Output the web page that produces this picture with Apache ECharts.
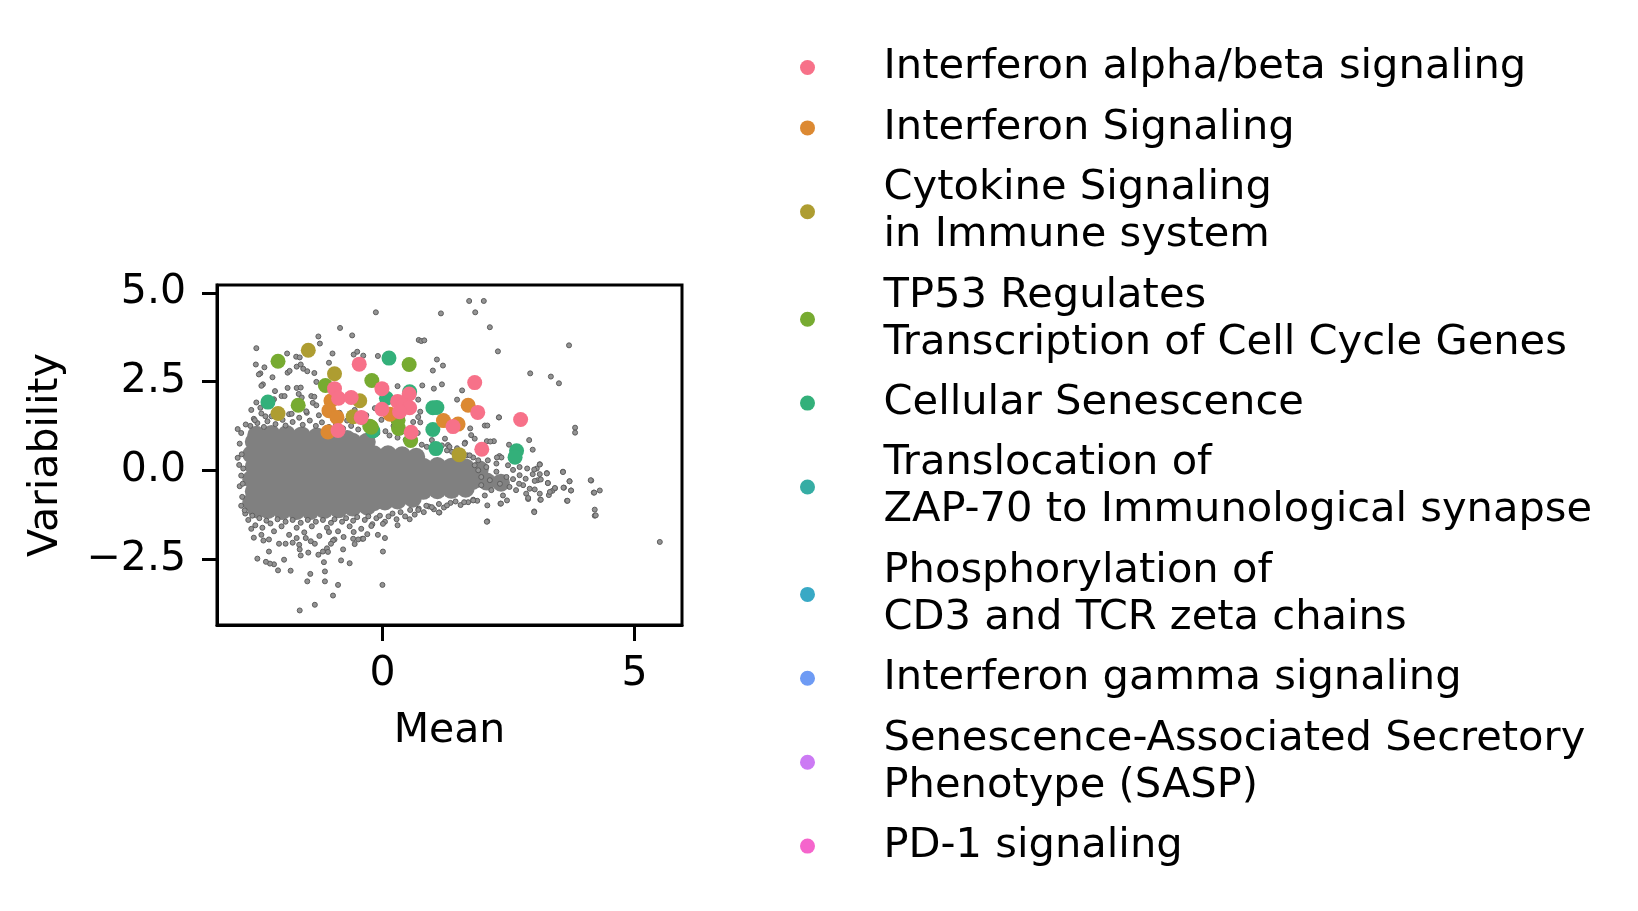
<!DOCTYPE html>
<html lang="en">
<head>
  <meta charset="UTF-8">
  <title>Mean vs Variability</title>
  <script src="https://cdn.jsdelivr.net/npm/echarts@6/dist/echarts.min.js"></script>
  <style>
    html, body { margin:0; padding:0; background:#fff; }
    #main { width:1638px; height:911px; }
  </style>
</head>
<body>
<div id="main"></div>
<script>
  // pathway names, legend order
  var pathways = [
    'Interferon alpha/beta signaling',
    'Interferon Signaling',
    'Cytokine Signaling\nin Immune system',
    'TP53 Regulates\nTranscription of Cell Cycle Genes',
    'Cellular Senescence',
    'Translocation of\nZAP-70 to Immunological synapse',
    'Phosphorylation of\nCD3 and TCR zeta chains',
    'Interferon gamma signaling',
    'Senescence-Associated Secretory\nPhenotype (SASP)',
    'PD-1 signaling'
  ];
  var pathwayColors = ['#f77189','#dc8932','#ae9d31','#77ab31','#33b07a','#36ada4','#38a9c5','#6e9bf4','#cc7af4','#f565cc'];

  // highlighted genes per pathway [mean, variability]
  var ifnAlphaBeta = [[-0.46,2.99],[1.83,2.47],[-0.95,2.30],[-0.87,2.03],[-0.62,2.05],[-0.01,2.30],[0.30,1.94],[0.53,2.15],[0.42,1.83],[0.54,1.76],[-0.01,1.72],[0.34,1.65],[-0.42,1.49],[1.89,1.63],[2.74,1.43],[1.40,1.23],[0.57,1.07],[-0.88,1.12],[1.97,0.59]];
  var ifnSignaling = [[1.70,1.83],[-1.02,1.96],[-1.06,1.68],[-0.90,1.49],[0.15,1.58],[1.21,1.40],[1.50,1.30],[-1.08,1.08]];
  var cytokine = [[-1.47,3.38],[-0.95,2.72],[-2.07,1.60],[-0.45,1.96],[-0.58,1.51],[1.52,0.44]];
  var tp53 = [[-2.07,3.07],[0.53,2.98],[-1.13,2.39],[-0.21,2.53],[-1.67,1.83],[-0.22,1.21],[-0.25,1.24],[0.32,1.18],[0.31,1.41],[0.56,0.84]];
  var senescence = [[0.13,3.16],[-2.27,1.92],[0.08,2.03],[0.54,2.21],[1.00,1.76],[1.08,1.77],[1.00,1.15],[1.06,0.61],[2.66,0.55],[2.63,0.37],[-0.19,1.11]];
  var zap70 = [];
  var cd3tcr = [];
  var ifnGamma = [];
  var sasp = [];
  var pd1 = [];

  // dense centre of the background cloud
  var cloudCore = [
    [-2.55,0.8],[-2.27,0.8],[-1.99,0.8],[-1.71,0.8],[-1.43,0.8],[-1.15,0.8],[-0.87,0.8],[-0.59,0.8],[-0.31,0.8],
    [-2.5,1.0],[-2.2,1.02],[-1.9,1.02],[-1.6,0.98],[-1.3,0.95],[-1.0,0.9],[-0.7,0.88],
    [-2.6,0.45],[-2.41,0.45],[-2.13,0.45],[-1.85,0.45],[-1.57,0.45],[-1.29,0.45],[-1.01,0.45],[-0.73,0.45],[-0.45,0.45],[-0.17,0.45],[0.11,0.45],[0.39,0.42],[0.67,0.38],
    [-2.55,0.1],[-2.27,0.1],[-1.99,0.1],[-1.71,0.1],[-1.43,0.1],[-1.15,0.1],[-0.87,0.1],[-0.59,0.1],[-0.31,0.1],[-0.03,0.1],[0.25,0.1],[0.53,0.1],[0.81,0.1],[1.09,0.12],[1.37,0.1],[1.65,0.08],[1.93,0.02],
    [-2.6,-0.25],[-2.41,-0.25],[-2.13,-0.25],[-1.85,-0.25],[-1.57,-0.25],[-1.29,-0.25],[-1.01,-0.25],[-0.73,-0.25],[-0.45,-0.25],[-0.17,-0.25],[0.11,-0.25],[0.39,-0.25],[0.67,-0.25],[0.95,-0.25],[1.23,-0.25],[1.51,-0.27],[1.79,-0.3],[2.07,-0.32],[2.35,-0.35],
    [-2.55,-0.6],[-2.27,-0.6],[-1.99,-0.6],[-1.71,-0.6],[-1.43,-0.6],[-1.15,-0.6],[-0.87,-0.6],[-0.59,-0.6],[-0.31,-0.6],[-0.03,-0.6],[0.25,-0.6],[0.53,-0.6],[0.81,-0.58],[1.09,-0.56],[1.37,-0.55],[1.65,-0.52],
    [-2.6,-0.9],[-2.41,-0.92],[-2.13,-0.92],[-1.85,-0.92],[-1.57,-0.92],[-1.29,-0.92],[-1.01,-0.92],[-0.73,-0.92],[-0.45,-0.92],[-0.17,-0.9],[0.05,-0.88],[0.3,-0.85],[0.6,-0.8],
    [-2.5,-1.1],[-2.27,-1.12],[-1.99,-1.15],[-1.71,-1.15],[-1.43,-1.15],[-1.15,-1.12],[-0.87,-1.1],[-0.59,-1.05],[-0.3,-1.02]
  ];

  // scattered genes round the edge of the cloud
  var cloudUpper = [
    [-2.62,1.25],[-2.55,1.45],[-2.48,1.33],[-2.40,1.60],[-2.35,1.22],[-2.28,1.38],[-2.20,1.52],[-2.12,1.30],[-2.05,1.70],[-1.98,1.42],[-1.92,1.26],[-1.85,1.58],[-1.78,1.36],[-1.70,1.75],[-1.65,1.48],[-1.58,1.28],[-1.50,1.62],[-1.44,1.40],[-1.38,1.90],[-1.32,1.25],[-1.26,1.55],[-1.20,1.35],[-1.12,1.72],[-1.06,1.22],[-0.98,1.45],[-0.92,1.30],[-0.85,1.62],[-0.78,1.18],[-0.70,1.40],[-0.62,1.25],[-0.55,1.70],[-0.48,1.15],[-0.40,1.35],[-0.32,1.55],[-0.25,1.12],[-0.18,1.28],[-0.10,1.05],[-0.02,1.42],[0.06,1.10],[0.14,0.98],[0.22,1.25],[0.30,0.92],[0.38,1.08],[0.46,0.86],[0.62,0.78],[0.70,1.05],[0.78,0.72],[0.88,0.66],[0.98,0.62],[1.08,0.60],[1.18,0.70],[1.28,0.56],[1.38,0.52],[1.48,0.62],[1.58,0.48],[1.68,0.42],[1.80,0.36],[-2.30,1.85],[-2.60,1.70],[-2.15,2.00],[-1.60,2.05],[-0.65,2.00],[-0.15,1.75],[0.25,1.55],[0.75,1.35]
  ];
  var cloudLower = [
    [-2.72,-1.22],[-2.66,-1.40],[-2.58,-1.28],[-2.52,-1.55],[-2.44,-1.35],[-2.38,-1.62],[-2.30,-1.42],[-2.22,-1.50],[-2.15,-1.72],[-2.08,-1.38],[-2.00,-1.58],[-1.92,-1.45],[-1.85,-1.82],[-1.78,-1.40],[-1.70,-1.62],[-1.62,-1.48],[-1.55,-1.75],[-1.48,-1.40],[-1.40,-1.58],[-1.32,-1.45],[-1.25,-1.85],[-1.18,-1.40],[-1.10,-1.62],[-1.02,-1.48],[-0.95,-1.38],[-0.88,-1.72],[-0.80,-1.45],[-0.72,-1.35],[-0.65,-1.58],[-0.58,-1.42],[-0.50,-1.32],[-0.42,-1.65],[-0.35,-1.40],[-0.28,-1.30],[-0.20,-1.52],[-0.12,-1.35],[-0.05,-1.28],[0.05,-1.45],[0.12,-1.30],[0.20,-1.22],[0.28,-1.38],[0.36,-1.18],[0.45,-1.30],[0.55,-1.12],[0.64,-1.25],[0.72,-1.08],[0.82,-1.18],[0.92,-1.02],[1.02,-1.10],[1.12,-0.95],[1.22,-1.05],[1.35,-0.92],[1.45,-0.88],[1.55,-0.98],[1.70,-0.90],[1.88,-0.86],[-2.55,-1.90],[-2.25,-1.95],[-1.65,-2.10],[-0.95,-1.95],[-0.30,-1.80],[0.30,-1.55],
    [-2.80,1.05],[-2.83,0.75],[-2.79,0.45],[-2.84,0.15],[-2.80,-0.15],[-2.83,-0.45],[-2.78,-0.75],[-2.80,-1.00],[-2.87,0.35]
  ];
  var cloudTail = [
    [2.06,0.09],[2.26,-0.04],[2.46,-0.19],[2.59,0.01],[2.72,-0.14],[2.79,-0.42],[2.52,-0.47],[2.33,-0.38],[2.16,-0.56],[2.03,-0.71],[2.39,-0.71],[2.65,-0.56],[2.92,-0.52],[2.85,-0.66],[1.96,-0.42],[1.96,-0.19],[2.13,-0.28],[2.72,0.09],[2.49,0.14],[1.90,0.28],[2.09,0.28],[2.26,0.19],[1.73,0.42],[1.83,0.14],[1.90,0.00],[3.08,-0.28],[3.02,-0.54],[3.12,-0.66],
    [3.12,0.17],[2.87,0.05],[3.06,0.05],[3.26,-0.08],[3.58,-0.04],[2.98,-0.11],[3.12,-0.11],[3.14,-0.26],[3.28,-0.36],[3.02,-0.30],[3.71,-0.31],[4.14,-0.29],[2.84,-0.24],[2.71,-0.38],[2.59,-0.25],[3.42,-0.51],[3.37,-0.58],[3.30,-0.70],[3.60,-0.49],[3.74,-0.57],[4.19,-0.63],[4.31,-0.57],[3.13,-0.83],[2.89,-0.81],[3.01,-1.16],[3.66,-0.86],[4.21,-1.11],[4.21,-1.28],[2.47,-0.85],[2.34,-0.94],[2.08,-0.99],[2.08,-1.44],[1.62,-0.90],[1.80,-0.83],[1.13,-1.19],[0.98,-1.04],[0.87,-1.00]
  ];
  var cloudOutliers = [
    [1.72,4.77],[2.01,4.77],[1.84,4.45],[-0.13,4.45],[1.16,4.42],[2.13,4.03],[-0.84,4.01],[-0.60,3.80],[-1.27,3.77],[3.70,3.52],[0.72,3.67],[0.77,3.64],[0.83,3.66],[2.29,3.35],[-2.50,3.44],[-1.89,3.29],[-1.24,3.57],[-0.99,3.29],[-0.57,3.26],[-0.50,3.34],[-0.38,3.23],[-0.09,3.22],[1.08,3.12],[1.20,2.95],[1.00,2.81],[2.93,2.73],[3.34,2.64],[3.50,2.45],[1.18,2.42],[1.02,2.30],[0.79,2.39],[1.58,2.25],[1.48,1.99],[0.71,1.99],[0.30,2.37],
    [-2.51,2.98],[-2.34,2.90],[-2.42,2.73],[-2.45,2.70],[-2.37,2.42],[-2.40,2.38],[-2.18,2.62],[-1.88,2.75],[-1.84,2.80],[-1.70,2.92],[-1.62,2.98],[-1.57,2.86],[-1.49,2.79],[-1.35,2.74],[-1.06,3.03],[-1.71,3.20],[-1.64,3.18],[-1.31,2.49],[-1.70,2.32],[-1.62,2.33],[-1.88,2.32],[-2.13,2.23],[-2.00,2.09],[-1.94,2.09],[-2.50,1.91],[-1.66,2.15],[-1.41,2.09],[-1.35,2.07],[-1.64,1.93],[-2.18,1.98],[-2.42,1.76],[-2.87,1.16],[-2.71,1.29],[-2.53,1.41],[-2.32,1.52],[-1.80,1.59],[-1.51,1.66],[-1.31,1.83],
    [2.03,1.26],[2.31,1.49],[2.08,1.26],[3.82,1.20],[3.82,1.06],[1.74,1.18],[1.76,0.99],[2.07,0.82],[2.21,0.82],[2.14,0.81],[2.91,0.85],[2.98,0.58],[2.51,0.72],[2.32,0.40],[2.36,0.36],[2.27,0.36],[1.30,0.71],[1.33,0.66],[1.24,0.89],[0.71,1.50],[0.75,1.65],[0.61,1.36],[0.98,0.85],[1.64,0.78],[1.83,0.89],[1.63,0.75],[2.31,1.49],
    [3.58,-0.05],[3.71,-0.31],[4.13,-0.28],[4.20,-0.63],[3.74,-0.57],[3.59,-0.49],[3.67,-0.86],[4.23,-1.27],[5.50,-2.02],[3.26,-0.09],[3.12,0.16],[3.01,0.02],[3.28,-0.36],[3.42,-0.50],[3.32,-0.61],[3.14,-0.83],[3.01,-1.18],[2.89,-0.78],[2.35,-0.94],[2.07,-1.45],[1.80,-0.85],[1.28,-0.99],[1.12,-1.19],[0.71,-1.12],[0.54,-1.38],
    [0.01,-1.51],[0.05,-1.91],[0.01,-2.29],[0.00,-3.23],[-0.09,-1.82],[-0.22,-1.57],[-0.40,-1.93],[-0.48,-1.95],[-0.55,-2.08],[-0.65,-2.62],[-0.82,-2.54],[-0.78,-2.23],[-0.88,-3.23],[-0.98,-3.53],[-1.14,-3.13],[-1.14,-2.85],[-1.16,-2.59],[-1.18,-2.29],[-1.10,-2.20],[-1.08,-2.30],[-1.27,-2.38],[-1.43,-2.92],[-1.49,-3.13],[-1.34,-3.79],[-1.64,-3.95],[-1.47,-2.32],[-1.62,-2.40],[-1.64,-2.23],[-1.82,-2.83],[-1.95,-2.52],[-2.07,-2.82],[-2.15,-2.65],[-2.23,-2.63],[-2.31,-2.58],[-2.48,-2.49],[-2.25,-2.29],[-2.36,-1.98],[-2.40,-1.82],[-2.05,-2.07],[-1.92,-2.07],[-1.78,-2.04],[-1.70,-1.91],[-1.52,-1.91],[-1.42,-2.00],[-1.34,-2.07],[-0.98,-1.98],[-1.02,-2.07],[-1.06,-1.74],[-0.77,-1.88],[-0.58,-1.93],[-0.57,-1.74],[-0.38,-1.93],[-2.60,-1.65],[-2.73,-1.13],[-2.76,0.05],[-2.77,-0.38]
  ];

  var chart = echarts.init(document.getElementById('main'), null, {renderer:'canvas'});
  var font = 'DejaVu Sans';

  var smallDot = {color:'#939393', borderColor:'#5e5e5e', borderWidth:1, opacity:1};
  var series = [
    {name:'core', type:'scatter', data:cloudCore, symbolSize:18, itemStyle:{color:'#808080', opacity:1}, silent:true},
    {name:'upper', type:'scatter', data:cloudUpper, symbolSize:5, itemStyle:smallDot, silent:true},
    {name:'lower', type:'scatter', data:cloudLower, symbolSize:5, itemStyle:smallDot, silent:true},
    {name:'tail', type:'scatter', data:cloudTail, symbolSize:5, itemStyle:smallDot, silent:true},
    {name:'outliers', type:'scatter', data:cloudOutliers, symbolSize:5, itemStyle:smallDot, silent:true}
  ];
  var pathwayData = [ifnAlphaBeta, ifnSignaling, cytokine, tp53, senescence, zap70, cd3tcr, ifnGamma, sasp, pd1];
  // draw the last pathway first so the first one sits on top
  for (var i = pathways.length - 1; i >= 0; i--) {
    series.push({
      name:pathways[i],
      type:'scatter',
      data:pathwayData[i],
      symbolSize:15,
      itemStyle:{color:pathwayColors[i], opacity:1}
    });
  }

  chart.setOption({
    animation:false,
    backgroundColor:'#ffffff',
    textStyle:{fontFamily:font},
    grid:{left:217, top:285, width:465, height:340, show:true, borderColor:'#000', borderWidth:3, outerBoundsMode:'none'},
    legend:{
      data:pathways,
      orient:'vertical',
      left:795,
      top:39,
      itemWidth:142,
      itemHeight:15,
      itemGap:13.4,
      icon:'circle',
      selectedMode:false,
      textStyle:{fontSize:41.6, lineHeight:47, color:'#000', fontFamily:font}
    },
    xAxis:{
      type:'value', min:-3.28, max:5.94,
      name:'Mean', nameLocation:'middle', nameGap:86,
      nameTextStyle:{fontSize:41, color:'#000', fontFamily:font},
      axisLine:{show:true, onZero:false, lineStyle:{color:'#000', width:3}},
      axisTick:{show:true, length:16, lineStyle:{color:'#000', width:3}, customValues:[0,5]},
      axisLabel:{fontSize:41, color:'#000', margin:29, fontFamily:font, customValues:[0,5]},
      splitLine:{show:false}
    },
    yAxis:{
      type:'value', min:-4.36, max:5.22,
      name:'Variability', nameLocation:'middle', nameGap:150,
      nameTextStyle:{fontSize:41, color:'#000', fontFamily:font},
      axisLine:{show:true, onZero:false, lineStyle:{color:'#000', width:3}},
      axisTick:{show:true, length:15, lineStyle:{color:'#000', width:3}, customValues:[-2.5,0,2.5,5]},
      axisLabel:{fontSize:41, color:'#000', margin:31, fontFamily:font, customValues:[-2.5,0,2.5,5],
        formatter:function(v){ return (v < 0 ? '\u2212' : '') + Math.abs(v).toFixed(1); }},
      splitLine:{show:false}
    },
    series:series
  });
</script>
</body>
</html>
